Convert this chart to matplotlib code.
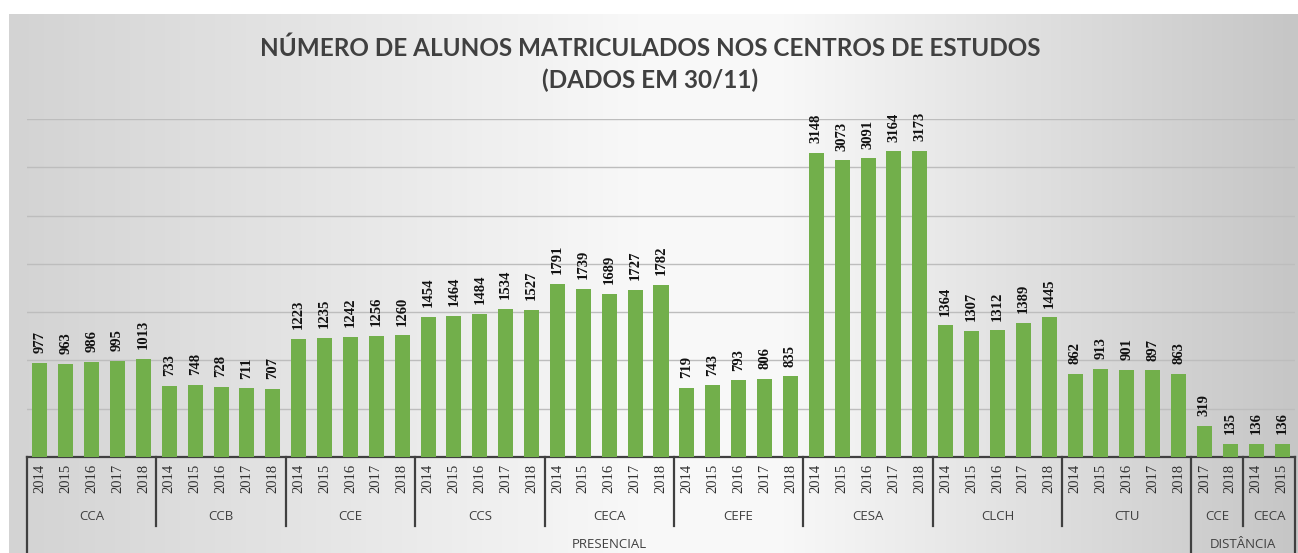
import numpy as np
import matplotlib
matplotlib.use('Agg')
import matplotlib.pyplot as plt
from matplotlib.colors import LinearSegmentedColormap

# dados - presencial
anos_presencial = ['2014', '2015', '2016', '2017', '2018']
cca = [977, 963, 986, 995, 1013]
ccb = [733, 748, 728, 711, 707]
cce = [1223, 1235, 1242, 1256, 1260]
ccs = [1454, 1464, 1484, 1534, 1527]
ceca = [1791, 1739, 1689, 1727, 1782]
cefe = [719, 743, 793, 806, 835]
cesa = [3148, 3073, 3091, 3164, 3173]
clch = [1364, 1307, 1312, 1389, 1445]
ctu = [862, 913, 901, 897, 863]
centros_presencial = ['CCA', 'CCB', 'CCE', 'CCS', 'CECA', 'CEFE', 'CESA', 'CLCH', 'CTU']
valores_presencial = [cca, ccb, cce, ccs, ceca, cefe, cesa, clch, ctu]

# dados - distancia
centros_distancia = ['CCE', 'CECA']
anos_distancia = [['2017', '2018'], ['2014', '2015']]
valores_distancia = [[319, 135], [136, 136]]

titulo = 'NÚMERO DE ALUNOS MATRICULADOS NOS CENTROS DE ESTUDOS\n(DADOS EM 30/11)'

# monta listas planas
grupos = []  # (modalidade, centro, anos, valores)
for c, v in zip(centros_presencial, valores_presencial):
    grupos.append(('PRESENCIAL', c, anos_presencial, v))
for c, a, v in zip(centros_distancia, anos_distancia, valores_distancia):
    grupos.append(('DISTÂNCIA', c, a, v))

anos = []
valores = []
for g in grupos:
    anos += g[2]
    valores += g[3]
x = np.arange(len(valores))

W, H = 1298, 553
fig = plt.figure(figsize=(W / 100, H / 100), dpi=100)

# fundo em degrade
bg = fig.add_axes([9 / W, 0, 1 - 9 / W, 1 - 14 / H])
cmap = LinearSegmentedColormap.from_list('fundo', [(0, '#d3d3d3'), (0.5, '#f9f9f9'), (0.6, '#f8f8f8'), (1, '#c6c6c6')])
bg.imshow(np.linspace(0, 1, 256)[None, :], aspect='auto', cmap=cmap, extent=[0, 1, 0, 1])
bg.axis('off')

ax_bottom = 457
ax_top = 119
ax_h = ax_bottom - ax_top
ax = fig.add_axes([27 / W, (H - ax_bottom) / H, (1295 - 27) / W, ax_h / H])
ax.set_facecolor('none')

def ypx(py):
    return -(py - ax_bottom) / ax_h

ax.bar(x, valores, width=0.58, color='#72af4b', zorder=3)
ax.set_xlim(-0.5, len(valores) - 0.5)
ax.set_ylim(0, 3500)
ax.set_yticks(np.arange(500, 3501, 500))
ax.yaxis.grid(True, color='#bdbdbd', linewidth=1)
ax.set_axisbelow(True)
ax.tick_params(left=False, labelleft=False, bottom=False, labelbottom=False)
for s in ['left', 'right', 'top']:
    ax.spines[s].set_visible(False)
ax.spines['bottom'].set_color('#404040')
ax.spines['bottom'].set_linewidth(1.6)

serif = ['Liberation Serif', 'DejaVu Serif']
for xi, v in zip(x, valores):
    ax.annotate(str(v), (xi, v), xytext=(0, 7), textcoords='offset points',
                rotation=90, ha='center', va='bottom', fontsize=10.5,
                fontweight='bold', family=serif, color='#111111')

tr = ax.get_xaxis_transform()
for xi, a in zip(x, anos):
    ax.text(xi, ypx(464), a, rotation=90, ha='center', va='top', fontsize=10.5,
            family=serif, color='#303030', transform=tr)

# rotulos dos centros e linhas de separacao
sans = ['Open Sans', 'DejaVu Sans']
pos = 0
limites = [-0.5]
modalidades = []
for mod, c, a, v in grupos:
    ini = pos - 0.5
    pos += len(v)
    fim = pos - 0.5
    ax.text((ini + fim) / 2, ypx(516), c, ha='center', va='center', fontsize=9.5,
            family=sans, color='#404040', transform=tr)
    if not modalidades or modalidades[-1][0] != mod:
        modalidades.append([mod, ini, fim])
    else:
        modalidades[-1][2] = fim
    limites.append(fim)

fins_mod = [m[1] for m in modalidades] + [modalidades[-1][2]]
for b in limites:
    baixo = ypx(553) if b in fins_mod else ypx(526)
    ax.plot([b, b], [0, baixo], color='#404040', linewidth=1.6, transform=tr, clip_on=False)

for mod, ini, fim in modalidades:
    ax.text((ini + fim) / 2, ypx(545), mod, ha='center', va='center', fontsize=9.5,
            family=sans, color='#404040', transform=tr)

fig.text(650 / W, 1 - 64 / H, titulo, ha='center', va='center', fontsize=17.5,
         fontweight='bold', family=['Lato', 'DejaVu Sans'], color='#404040',
         linespacing=1.45)

fig.savefig('out.png', dpi=100)
